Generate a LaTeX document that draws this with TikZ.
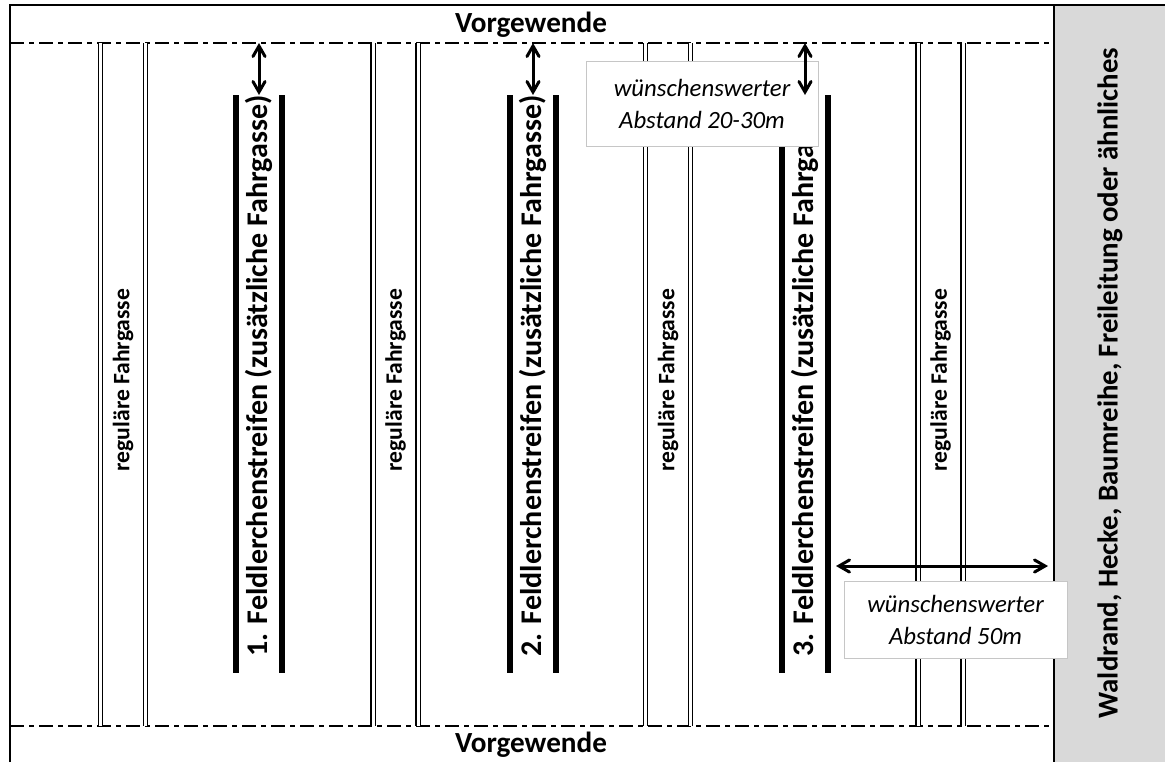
\documentclass[tikz,border=0pt]{standalone}
\usepackage{fontspec}
\setmainfont{Carlito}
\usepackage{tikz}
\usetikzlibrary{arrows}

\begin{document}
\begin{tikzpicture}[
  x=0.5pt, y=-0.5pt,
  gasse/.style={double, double distance=1.5pt, line width=0.6pt},
  streifen/.style={line width=2.6pt},
  abstand/.style={<->, >=angle 60, line width=1.5pt},
  vorg/.style={dash pattern=on 7pt off 2.5pt on 2.5pt off 2.5pt, line width=0.6pt},
  lbl/.style={font=\bfseries\fontsize{11.8}{14}\selectfont, rotate=90},
  grosslbl/.style={font=\bfseries\fontsize{15}{18}\selectfont, rotate=90},
  hinweis/.style={draw=gray!45, fill=white, line width=0.5pt, align=center,
    font=\itshape\fontsize{12.4}{16}\selectfont, inner sep=0pt},
]

\useasboundingbox (0,0) rectangle (1165,762);
\fill [gray!30] (1054,5) rectangle (1165,762);
\draw [line width=1.2pt] (10,762) -- (10,5) -- (1165,5);
\draw [line width=1.2pt] (1054,5) -- (1054,762);

\draw [vorg] (10,43) -- (1054,43);
\draw [vorg] (10,726) -- (1054,726);
\node (vgo) at (531,25) [font=\bfseries\fontsize{14.6}{16}\selectfont] {Vorgewende};
\node (vgu) at (531,745) [font=\bfseries\fontsize{14.6}{16}\selectfont] {Vorgewende};

% regulaere Fahrgassen
\foreach \x [count=\i] in {100.5,373,645.5,918} {
  \draw [gasse] (\x,43) -- (\x,726);
  \draw [gasse] (\x+45,43) -- (\x+45,726);
  \node (rf\i) [lbl] at (\x+22.5,380) {reguläre Fahrgasse};
}

% Feldlerchenstreifen
\foreach \x/\n in {236/1,510/2,782/3} {
  \draw [streifen] (\x,95) -- (\x,673);
  \draw [streifen] (\x+46,95) -- (\x+46,673);
  \node (fs\n) [grosslbl] at (\x+23,376) {\n. Feldlerchenstreifen (zusätzliche Fahrgasse)};
  \coordinate (o\n) at (\x+23,43);
  \coordinate (u\n) at (\x+23,95);
}

\node (wald) [grosslbl, font=\bfseries\fontsize{14.4}{17}\selectfont] at (1110,383)
  {Waldrand, Hecke, Baumreihe, Freileitung oder ähnliches};

\node (h1) [hinweis, minimum width=116pt, minimum height=42.5pt] at (702,103.5)
  {wünschenswerter\\Abstand 20-30m};
\node (h2) [hinweis, minimum width=111.5pt, minimum height=38.5pt] at (955.5,619.5)
  {wünschenswerter\\Abstand 50m};

\draw [abstand] (o1) -- (u1);
\draw [abstand] (o2) -- (u2);
\draw [abstand] (o3) -- (u3);

\coordinate (rl) at (836,566);
\coordinate (rr) at (1048,566);
\draw [abstand] (rl) -- (rr);

\end{tikzpicture}
\end{document}
